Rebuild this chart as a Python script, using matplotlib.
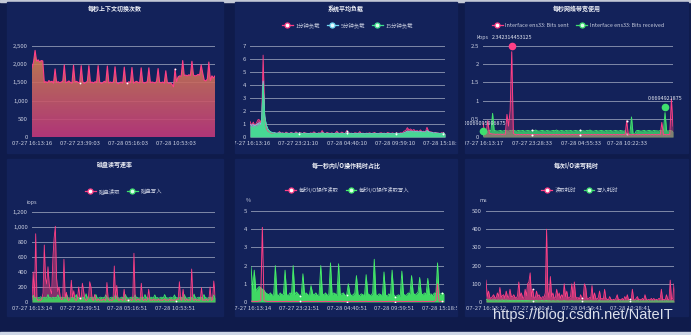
import numpy as np
import matplotlib
matplotlib.use("Agg")
import matplotlib.pyplot as plt
from matplotlib.patches import Rectangle
from matplotlib.lines import Line2D
from matplotlib.colors import LinearSegmentedColormap
from matplotlib.transforms import Bbox, TransformedBbox, ScaledTranslation
import matplotlib.ticker as mticker

plt.rcParams['font.family'] = ['Noto Sans CJK SC', 'DejaVu Sans']

# ---------------- data ----------------
# context switches per second
ctx_switch = [
    1900, 2060, 2380, 2080, 2120, 2060, 2100, 2090, 1500, 1520,
    1490, 1550, 1510, 1530, 1480, 1870, 1500, 1520, 1490, 1510,
    1530, 1980, 1490, 1510, 1540, 1500, 1480, 1970, 1510, 1530,
    1500, 1490, 1960, 1520, 1470, 1500, 1530, 1960, 1490, 1510,
    1480, 1520, 1500, 1960, 1510, 1470, 1490, 1530, 1500, 1950,
    1480, 1510, 1490, 1520, 1930, 1500, 1460, 1490, 1510, 1480,
    1920, 1500, 1470, 1520, 1490, 1910, 1480, 1510, 1530, 1500,
    1490, 1900, 1510, 1480, 1500, 1520, 1900, 1490, 1510, 1500,
    1480, 1530, 1880, 1500, 1490, 1510, 1480, 1820, 1500, 1470,
    1490, 1450, 1380, 1870, 1520, 1650, 1680, 1670, 2100, 1690,
    1700, 1680, 1710, 1690, 2080, 1700, 1680, 1690, 1720, 1700,
    1980, 1760, 1560, 1540, 1590, 2060, 1550, 1680, 1620, 1680,
]
ctx_labels = ["07-27 16:13:16", "07-27 23:39:03", "07-28 05:16:03", "07-28 10:53:03"]

# system load average
load1 = [
    1.2, 0.9, 1.15, 0.85, 1.1, 1.35, 1.3, 1.0, 6.3, 1.4,
    0.65, 0.45, 0.38, 0.3, 0.28, 0.35, 0.25, 0.3, 0.42, 0.28,
    0.33, 0.25, 0.38, 0.3, 0.27, 0.35, 0.3, 0.26, 0.4, 0.3,
    0.28, 0.33, 0.25, 0.36, 0.3, 0.28, 0.25, 0.32, 0.28, 0.4,
    0.3, 0.26, 0.33, 0.28, 0.5, 0.3, 0.27, 0.35, 0.3, 0.28,
    0.32, 0.25, 0.3, 0.45, 0.3, 0.28, 0.38, 0.3, 0.26, 0.5,
    0.35, 0.28, 0.3, 0.25, 0.33, 0.3, 0.28, 0.42, 0.27, 0.3,
    0.25, 0.3, 0.28, 0.33, 0.27, 0.3, 0.35, 0.28, 0.25, 0.3,
    0.33, 0.28, 0.3, 0.26, 0.35, 0.3, 0.28, 0.32, 0.27, 0.3,
    0.3, 0.28, 0.33, 0.3, 0.45, 0.5, 0.72, 0.55, 0.62, 0.5,
    0.58, 0.45, 0.5, 0.42, 0.55, 0.4, 0.45, 0.38, 0.75, 0.45,
    0.4, 0.38, 0.3, 0.35, 0.32, 0.3, 0.28, 0.33, 0.3, 0.28,
]
load5 = [
    0.95, 0.9, 0.95, 0.85, 0.95, 1.05, 1.1, 1.0, 4.3, 1.6,
    0.9, 0.6, 0.45, 0.38, 0.33, 0.32, 0.3, 0.3, 0.32, 0.3,
    0.29, 0.28, 0.3, 0.29, 0.27, 0.3, 0.29, 0.27, 0.31, 0.29,
    0.28, 0.29, 0.27, 0.3, 0.28, 0.27, 0.26, 0.28, 0.27, 0.3,
    0.28, 0.27, 0.29, 0.27, 0.33, 0.29, 0.27, 0.29, 0.28, 0.27,
    0.28, 0.26, 0.27, 0.31, 0.28, 0.27, 0.29, 0.28, 0.26, 0.32,
    0.3, 0.28, 0.27, 0.26, 0.28, 0.27, 0.26, 0.3, 0.26, 0.27,
    0.25, 0.27, 0.26, 0.28, 0.26, 0.27, 0.29, 0.27, 0.25, 0.26,
    0.28, 0.26, 0.27, 0.25, 0.28, 0.27, 0.26, 0.28, 0.26, 0.27,
    0.27, 0.26, 0.28, 0.27, 0.33, 0.37, 0.45, 0.43, 0.46, 0.43,
    0.45, 0.41, 0.42, 0.39, 0.43, 0.38, 0.4, 0.36, 0.5, 0.4,
    0.37, 0.35, 0.31, 0.32, 0.3, 0.29, 0.27, 0.29, 0.28, 0.27,
]
load15 = [
    0.75, 0.8, 0.7, 0.85, 0.75, 0.9, 0.95, 0.8, 4.1, 1.5,
    0.9, 0.55, 0.42, 0.35, 0.3, 0.29, 0.27, 0.28, 0.3, 0.27,
    0.26, 0.25, 0.28, 0.26, 0.24, 0.27, 0.26, 0.24, 0.28, 0.26,
    0.25, 0.26, 0.24, 0.27, 0.25, 0.24, 0.23, 0.25, 0.24, 0.27,
    0.25, 0.24, 0.26, 0.24, 0.3, 0.26, 0.24, 0.26, 0.25, 0.24,
    0.25, 0.23, 0.24, 0.28, 0.25, 0.24, 0.26, 0.25, 0.23, 0.29,
    0.27, 0.25, 0.24, 0.23, 0.25, 0.24, 0.23, 0.27, 0.23, 0.24,
    0.22, 0.24, 0.23, 0.25, 0.23, 0.24, 0.26, 0.24, 0.22, 0.23,
    0.25, 0.23, 0.24, 0.22, 0.25, 0.24, 0.23, 0.25, 0.23, 0.24,
    0.24, 0.23, 0.25, 0.24, 0.3, 0.33, 0.4, 0.38, 0.42, 0.38,
    0.4, 0.36, 0.38, 0.35, 0.38, 0.34, 0.36, 0.32, 0.44, 0.36,
    0.33, 0.31, 0.27, 0.28, 0.27, 0.26, 0.24, 0.26, 0.25, 0.24,
]
load_names = ["1分钟负载", "5分钟负载", "15分钟负载"]
load_labels = ["07-27 16:13:16", "07-27 23:21:10", "07-28 04:40:10",
               "07-28 09:59:10", "07-28 15:18:10"]

# network bandwidth (kbps)
net_sent = [
    0.4, 0.12, 0.1, 0.45, 0.1, 0.09, 0.08, 0.08, 0.07, 0.08,
    0.07, 0.08, 0.07, 0.08, 0.07, 0.62, 0.3, 0.72, 2.342314453125, 0.1,
    0.07, 0.06, 0.07, 0.06, 0.07, 0.06, 0.07, 0.06, 0.07, 0.06,
    0.07, 0.06, 0.07, 0.06, 0.07, 0.06, 0.07, 0.06, 0.07, 0.06,
    0.07, 0.06, 0.07, 0.06, 0.07, 0.06, 0.07, 0.06, 0.07, 0.06,
    0.07, 0.06, 0.07, 0.06, 0.07, 0.06, 0.07, 0.06, 0.07, 0.06,
    0.07, 0.06, 0.07, 0.06, 0.07, 0.06, 0.07, 0.06, 0.07, 0.06,
    0.07, 0.06, 0.07, 0.06, 0.07, 0.06, 0.07, 0.06, 0.07, 0.06,
    0.07, 0.06, 0.07, 0.06, 0.07, 0.06, 0.07, 0.06, 0.07, 0.06,
    0.45, 0.06, 0.07, 0.06, 0.07, 0.06, 0.07, 0.06, 0.07, 0.06,
    0.07, 0.06, 0.07, 0.06, 0.07, 0.06, 0.07, 0.06, 0.07, 0.06,
    0.07, 0.06, 0.4, 0.06, 0.07, 0.06, 0.07, 0.06, 1.05, 0.3,
]
net_recv = [
    0.00069095996875, 0.15, 0.17, 0.16, 0.18, 0.17, 0.65, 0.18, 0.17, 0.16,
    0.17, 0.18, 0.16, 0.17, 0.18, 0.17, 0.16, 0.18, 0.17, 0.19,
    0.17, 0.16, 0.18, 0.17, 0.17, 0.18, 0.16, 0.17, 0.18, 0.17,
    0.16, 0.18, 0.17, 0.19, 0.17, 0.16, 0.17, 0.18, 0.17, 0.16,
    0.18, 0.17, 0.16, 0.17, 0.18, 0.17, 0.19, 0.17, 0.16, 0.18,
    0.17, 0.16, 0.18, 0.17, 0.17, 0.18, 0.16, 0.17, 0.18, 0.17,
    0.16, 0.18, 0.17, 0.17, 0.16, 0.18, 0.17, 0.19, 0.17, 0.16,
    0.17, 0.18, 0.16, 0.17, 0.18, 0.17, 0.16, 0.18, 0.17, 0.17,
    0.18, 0.16, 0.17, 0.18, 0.17, 0.16, 0.18, 0.17, 0.16, 0.17,
    0.08, 0.08, 0.07, 0.55, 0.08, 0.08, 0.17, 0.18, 0.17, 0.16,
    0.17, 0.18, 0.16, 0.17, 0.18, 0.17, 0.16, 0.18, 0.17, 0.17,
    0.16, 0.18, 0.17, 0.16, 0.6694921875, 0.17, 0.16, 0.18, 0.17, 0.15,
]
net_names = ["Interface ens33: Bits sent", "Interface ens33: Bits received"]
net_labels = ["07-27 16:13:17", "07-27 23:28:33", "07-28 04:55:33", "07-28 10:22:33"]

# disk read / write (iops)
disk_read = [
    30, 400, 60, 910, 40, 20, 30, 20, 40, 120,
    760, 320, 240, 470, 240, 160, 110, 580, 850, 1010,
    320, 140, 200, 60, 30, 40, 570, 50, 130, 30,
    20, 40, 290, 60, 150, 30, 20, 40, 200, 60,
    30, 250, 150, 40, 20, 30, 60, 270, 200, 30,
    20, 100, 30, 20, 40, 20, 30, 20, 40, 30,
    20, 260, 40, 20, 30, 20, 30, 480, 40, 220,
    30, 20, 40, 30, 20, 170, 30, 20, 30, 20,
    40, 20, 30, 650, 30, 20, 40, 30, 20, 250,
    30, 20, 40, 20, 30, 170, 20, 30, 20, 40,
    20, 30, 20, 40, 20, 30, 20, 30, 40, 20,
    30, 20, 40, 20, 30, 20, 30, 20, 40, 30,
    270, 30, 20, 170, 30, 20, 40, 20, 30, 20,
    440, 30, 20, 40, 20, 30, 20, 30, 190, 20,
    30, 20, 40, 20, 30, 200, 20, 30, 280, 100,
]
disk_write = [
    60, 90, 55, 65, 50, 60, 55, 70, 60, 55,
    65, 55, 60, 100, 55, 60, 50, 65, 55, 60,
    55, 95, 60, 50, 65, 55, 60, 55, 105, 60,
    55, 50, 60, 65, 55, 60, 100, 55, 60, 50,
    55, 65, 60, 55, 110, 60, 50, 55, 60, 65,
    55, 60, 100, 55, 50, 60, 65, 55, 60, 55,
    95, 60, 55, 50, 60, 65, 55, 60, 105, 55,
    60, 50, 55, 65, 60, 55, 100, 60, 55, 50,
    60, 65, 55, 60, 95, 55, 60, 50, 55, 65,
    60, 55, 100, 60, 55, 50, 60, 65, 55, 60,
    95, 55, 60, 50, 55, 65, 60, 55, 100, 60,
    55, 50, 60, 65, 55, 60, 95, 55, 60, 50,
    55, 65, 60, 55, 100, 60, 50, 55, 60, 65,
    55, 60, 105, 55, 50, 60, 65, 55, 60, 55,
    100, 60, 55, 50, 60, 65, 55, 60, 95, 55,
]
disk_names = ["磁盘读取", "磁盘写入"]
disk_labels = ["07-27 16:13:14", "07-27 23:39:51", "07-28 05:16:51", "07-28 10:53:51"]

# share of each second spent on I/O (%)
io_read_pct = [
    0.05, 0.03, 0.04, 0.02, 0.03, 0.05, 0.08, 4.1, 0.1, 0.05,
    0.03, 0.02, 0.03, 0.04, 0.02, 0.03, 0.02, 0.03, 0.04, 0.02,
    0.03, 0.02, 0.04, 0.03, 0.02, 0.03, 0.04, 0.02, 0.03, 0.02,
    0.04, 0.03, 0.02, 0.03, 0.02, 0.04, 0.03, 0.02, 0.03, 0.02,
    0.03, 0.04, 0.02, 0.03, 0.02, 0.03, 0.04, 0.02, 0.03, 0.02,
    0.04, 0.03, 0.02, 0.03, 0.02, 0.04, 0.03, 0.02, 0.03, 0.02,
    0.03, 0.02, 0.04, 0.03, 0.02, 0.03, 0.02, 0.04, 0.03, 0.02,
    0.03, 0.04, 0.02, 0.03, 0.02, 0.03, 0.04, 0.02, 0.03, 0.02,
    0.04, 0.03, 0.02, 0.03, 0.02, 0.04, 0.03, 0.02, 0.03, 0.02,
    0.03, 0.02, 0.04, 0.03, 0.02, 0.03, 0.02, 0.04, 0.03, 0.02,
    0.03, 0.04, 0.02, 0.03, 0.02, 0.03, 0.04, 0.02, 0.03, 0.02,
    0.04, 0.03, 0.02, 0.03, 0.1, 1.0, 0.05, 0.02, 0.03, 0.02,
]
io_rw_pct = [
    1.95, 0.7, 1.75, 0.6, 0.75, 0.85, 0.8, 0.7, 0.65, 0.5,
    0.45, 0.4, 0.5, 0.35, 0.45, 2.0, 0.4, 0.35, 0.5, 0.4,
    0.45, 1.75, 0.4, 0.35, 0.5, 0.45, 2.0, 0.4, 0.55, 0.45,
    0.35, 0.4, 1.55, 0.45, 0.5, 0.4, 0.35, 0.9, 0.45, 0.4,
    0.5, 0.35, 0.4, 2.0, 0.45, 0.4, 0.5, 0.35, 0.45, 2.15,
    0.4, 0.5, 0.45, 0.35, 2.1, 0.4, 0.45, 0.5, 0.35, 0.4,
    1.0, 0.45, 0.35, 0.4, 0.5, 1.45, 0.4, 0.35, 0.45, 0.4,
    0.35, 1.5, 0.45, 0.4, 0.35, 0.5, 2.35, 0.4, 0.35, 0.45,
    0.4, 0.35, 1.65, 0.4, 0.3, 0.45, 0.35, 1.75, 0.4, 0.3,
    0.35, 0.4, 0.3, 1.7, 0.45, 0.35, 0.4, 0.5, 0.45, 1.45,
    0.5, 0.4, 0.45, 0.55, 1.35, 0.45, 0.4, 0.5, 0.45, 1.3,
    0.4, 0.45, 0.35, 0.5, 0.45, 2.15, 0.4, 0.45, 0.5, 0.45,
]
io_pct_names = ["每秒I/O操作读取", "每秒I/O操作读取写入"]
io_pct_labels = ["07-27 16:13:14", "07-27 23:21:51", "07-28 04:40:51",
                 "07-28 09:59:51", "07-28 15:18:51"]

# latency of each I/O (ms)
io_read_ms = [
    120, 30, 60, 25, 20, 30, 40, 25, 20, 50,
    30, 80, 25, 35, 40, 20, 60, 30, 25, 70,
    30, 30, 40, 25, 20, 35, 110, 30, 50, 25,
    20, 70, 35, 100, 110, 160, 30, 70, 25, 20,
    60, 30, 40, 25, 20, 30, 25, 50, 400, 60,
    25, 140, 30, 50, 20, 25, 70, 30, 50, 20,
    40, 25, 100, 30, 60, 20, 25, 30, 100, 25,
    110, 30, 20, 25, 15, 40, 20, 25, 100, 80,
    20, 15, 25, 20, 90, 15, 50, 20, 15, 25,
    60, 15, 20, 15, 70, 20, 15, 10, 30, 15,
    10, 15, 10, 20, 40, 10, 15, 10, 20, 10,
    30, 15, 40, 10, 15, 10, 70, 15, 10, 20,
    30, 10, 15, 10, 20, 10, 40, 15, 10, 15,
    10, 20, 10, 20, 10, 15, 10, 20, 15, 70,
    10, 15, 10, 40, 15, 10, 120, 15, 20, 100,
]
io_write_ms = [
    15, 12, 10, 12, 9, 11, 10, 12, 9, 10,
    11, 9, 10, 12, 8, 10, 11, 9, 10, 8,
    9, 10, 8, 9, 10, 8, 9, 7, 8, 9,
    7, 8, 9, 7, 8, 6, 7, 8, 6, 7,
    8, 6, 7, 6, 8, 7, 6, 7, 8, 6,
    7, 6, 5, 7, 6, 5, 6, 7, 5, 6,
    5, 6, 7, 5, 6, 5, 6, 5, 7, 5,
    6, 5, 6, 5, 6, 7, 5, 6, 5, 6,
    5, 6, 5, 7, 5, 6, 5, 6, 5, 6,
    7, 5, 6, 5, 6, 5, 6, 5, 7, 5,
    6, 5, 6, 5, 6, 7, 5, 6, 5, 6,
    5, 6, 5, 7, 5, 6, 5, 6, 5, 6,
    7, 5, 6, 5, 6, 5, 6, 5, 7, 5,
    6, 5, 6, 5, 6, 7, 5, 6, 5, 6,
    5, 6, 5, 7, 5, 6, 5, 6, 5, 6,
]
io_ms_names = ["读取耗时", "写入耗时"]
io_ms_labels = ["07-27 16:13:12", "07-27 23:30:41", "07-28 04:59:41", "07-28 10:28:41"]

# ---------------- styling ----------------
W, H = 691, 335
BG = '#0f1b4b'
PANEL = '#13225a'
GRID = '#7f89a8'
TXT = '#c9cee0'
PINK = '#ff3f86'
GREEN = '#3fe06e'
MINT = '#3fe08f'
CYAN = '#6fd8f2'

fig = plt.figure(figsize=(W / 100, H / 100), dpi=100)
fig.patch.set_facecolor(BG)


def fr(x0, y0, x1, y1):
    return [x0 / W, 1 - y1 / H, (x1 - x0) / W, (y1 - y0) / H]


# thin light strips at top and bottom of the page
fig.add_artist(Rectangle((0, 1 - 1.5 / H), 1, 1.5 / H, transform=fig.transFigure,
                         color='#c3c8d6', zorder=0))
fig.add_artist(Rectangle((0, 0), 1, 3 / H, transform=fig.transFigure,
                         color='#cdd6e6', zorder=0))

panel_px = {
    1: (7, 2, 223, 153), 2: (235, 2, 457, 153), 3: (465, 2, 688, 153),
    4: (7, 159, 223, 316), 5: (235, 159, 457, 316), 6: (465, 159, 688, 316),
}
axes_px = {
    1: (32, 46, 215, 137), 2: (250, 46, 445, 137), 3: (483, 46, 673, 137),
    4: (32, 212, 215, 302), 5: (251, 211, 444, 302), 6: (486, 211, 674, 302),
}
titles = {
    1: "每秒上下文切换次数", 2: "系统平均负载", 3: "每秒网络带宽使用",
    4: "磁盘读写速率", 5: "每一秒内I/O操作耗时占比", 6: "每次I/O读写耗时",
}

panel_boxes = {}
for k, (x0, y0, x1, y1) in panel_px.items():
    l, b, w, h = fr(x0, y0, x1, y1)
    fig.add_artist(Rectangle((l, b), w, h, transform=fig.transFigure,
                             color=PANEL, zorder=0))
    panel_boxes[k] = TransformedBbox(Bbox.from_bounds(l, b, w, h), fig.transFigure)
    fig.text((x0 + x1) / 2 / W, 1 - (y0 + 6) / H, titles[k], ha='center', va='center',
             fontsize=4.3, fontweight='bold', color='#f2f4fa')

axes = {k: fig.add_axes(fr(*v)) for k, v in axes_px.items()}


def style(k, n, ymax, step, fmt, xlabels, xfracs):
    ax = axes[k]
    ax.set_facecolor('none')
    for s in ax.spines.values():
        s.set_visible(False)
    ax.set_xlim(0, n - 1)
    ax.set_ylim(0, ymax)
    ax.set_yticks(np.arange(0, ymax + step / 2, step))
    ax.yaxis.set_major_formatter(mticker.FuncFormatter(fmt))
    ax.set_xticks([f * (n - 1) for f in xfracs])
    ax.set_xticklabels(xlabels)
    ax.tick_params(length=0, labelsize=4.3, colors=TXT, pad=3)
    ax.yaxis.grid(True, color=GRID, lw=0.7)
    ax.set_axisbelow(True)
    for t in ax.xaxis.get_major_ticks():
        t.label1.set_clip_box(panel_boxes[k])
        t.label1.set_clip_on(True)
    return ax


def legend(ax, names, colors, faces):
    handles = [Line2D([], [], color=c, lw=0.9, marker='o', markersize=3.6,
                      markerfacecolor=f, markeredgecolor=c, markeredgewidth=0.9)
               for c, f in zip(colors, faces)]
    ax.legend(handles, names, loc='center', bbox_to_anchor=(0.5, 1.23), ncol=len(names),
              frameon=False, fontsize=3.9, labelcolor=TXT, handlelength=2.0,
              handletextpad=0.5, columnspacing=1.3, borderaxespad=0)


def comma(v, _):
    return f"{int(v):,}"


def plain(v, _):
    return f"{v:g}"


def dots(fracs, n):
    return [int(round(f * (n - 1))) for f in fracs[1:]]


# ---- panel 1: context switches with gradient area ----
fr1 = [0, 0.26, 0.522, 0.784]
n1 = len(ctx_switch)
ax = style(1, n1, 2500, 500, comma, ctx_labels, fr1)
x = np.arange(n1)
poly = ax.fill_between(x, 0, ctx_switch, color='none', lw=0)
cmap = LinearSegmentedColormap.from_list('ctx', ['#c2387c', '#cf8a4a'])
im = ax.imshow(np.linspace(0, 1, 256).reshape(-1, 1), cmap=cmap, aspect='auto',
               origin='lower', extent=[0, n1 - 1, 0, 2500], alpha=0.9, zorder=2)
im.set_clip_path(poly.get_paths()[0], transform=ax.transData)
ax.plot(x, ctx_switch, color=PINK, lw=0.8, zorder=3, marker='o', markersize=1.3,
        markerfacecolor='white', markeredgewidth=0, markevery=dots(fr1, n1))
ax.set_xlim(0, n1 - 1)
ax.set_ylim(0, 2500)

# ---- panel 2: load average ----
fr2 = [0, 0.248, 0.496, 0.744, 0.992]
n2 = len(load1)
ax = style(2, n2, 7, 1, plain, load_labels, fr2)
x = np.arange(n2)
for ys, c, fa in [(load1, PINK, 0.75), (load5, CYAN, 0.6), (load15, MINT, 0.9)]:
    ax.fill_between(x, 0, ys, color=c, alpha=fa, lw=0, zorder=2)
    ax.plot(x, ys, color=c, lw=0.6, zorder=3, marker='o', markersize=1.3,
            markerfacecolor='white', markeredgewidth=0, markevery=dots(fr2, n2))
legend(ax, load_names, [PINK, CYAN, MINT], ['white', '#e8fbff', '#dcffe9'])

# ---- panel 3: network bandwidth ----
fr3 = [0, 0.26, 0.515, 0.76]
n3 = len(net_sent)
ax = style(3, n3, 2.5, 0.5, plain, net_labels, fr3)
x = np.arange(n3)
ax.fill_between(x, 0, net_recv, color='#3ccf6c', alpha=0.85, lw=0, zorder=2)
ax.plot(x, net_recv, color=GREEN, lw=0.7, zorder=3, marker='o', markersize=1.5,
        markerfacecolor='white', markeredgewidth=0, markevery=dots(fr3, n3))
ax.fill_between(x, 0, net_sent, color='#e0407c', alpha=0.45, lw=0, zorder=3)
ax.plot(x, net_sent, color=PINK, lw=0.7, zorder=4, marker='o', markersize=1.5,
        markerfacecolor='white', markeredgewidth=0, markevery=dots(fr3, n3))
legend(ax, net_names, [PINK, GREEN], ['white', '#dcffe9'])
ax.text(0, 1.088, "kbps", transform=ax.transAxes, ha='center', va='center',
        fontsize=3.9, color=TXT)

pin = ax.transData + ScaledTranslation(0, 0.055, fig.dpi_scale_trans)
marks = [
    (int(np.argmax(net_sent)), max(net_sent), PINK),
    (int(np.argmax(net_recv)), max(net_recv), GREEN),
    (int(np.argmin(net_recv)), min(net_recv), GREEN),
]
for i, v, c in marks:
    ax.plot([i], [v], 'o', color=c, markersize=5.5, markeredgewidth=0,
            transform=pin, clip_on=False, zorder=6)
    t = ax.annotate(repr(v), (i, v), xytext=(0, 10), textcoords='offset points',
                    ha='center', va='center', fontsize=3.9, color='#e6e9f2',
                    annotation_clip=False, zorder=7)
    t.set_clip_box(panel_boxes[3])
    t.set_clip_on(True)

# ---- panel 4: disk iops ----
fr4 = [0, 0.26, 0.522, 0.784]
n4 = len(disk_read)
ax = style(4, n4, 1200, 200, comma, disk_labels, fr4)
x = np.arange(n4)
ax.fill_between(x, 0, disk_read, color='#e0407c', alpha=0.55, lw=0, zorder=2)
ax.fill_between(x, 0, disk_write, color='#3ed45e', alpha=0.92, lw=0, zorder=3)
ax.plot(x, disk_write, color=GREEN, lw=0.6, zorder=4)
ax.plot(x, disk_read, color=PINK, lw=0.6, zorder=5, marker='o', markersize=1.3,
        markerfacecolor='white', markeredgewidth=0, markevery=dots(fr4, n4))
legend(ax, disk_names, [PINK, GREEN], ['white', '#dcffe9'])
ax.text(0, 1.11, "iops", transform=ax.transAxes, ha='center', va='center',
        fontsize=3.9, color=TXT)

# ---- panel 5: I/O time share ----
fr5 = [0, 0.248, 0.496, 0.744, 0.992]
n5 = len(io_rw_pct)
ax = style(5, n5, 5, 1, plain, io_pct_labels, fr5)
x = np.arange(n5)
ax.fill_between(x, 0, io_rw_pct, color='#45ee66', alpha=0.9, lw=0, zorder=2)
ax.plot(x, io_rw_pct, color='#45f06a', lw=0.6, zorder=3, marker='o', markersize=1.3,
        markerfacecolor='white', markeredgewidth=0, markevery=dots(fr5, n5))
ax.plot(x, io_read_pct, color=PINK, lw=0.7, zorder=4, marker='o', markersize=1.3,
        markerfacecolor='white', markeredgewidth=0, markevery=dots(fr5, n5))
legend(ax, io_pct_names, [PINK, '#45f06a'], ['white', '#dcffe9'])
ax.text(-0.015, 1.11, "%", transform=ax.transAxes, ha='center', va='center',
        fontsize=3.9, color=TXT)

# ---- panel 6: I/O latency ----
fr6 = [0, 0.25, 0.51, 0.767]
n6 = len(io_read_ms)
ax = style(6, n6, 500, 100, plain, io_ms_labels, fr6)
x = np.arange(n6)
ax.fill_between(x, 0, io_read_ms, color='#e0407c', alpha=0.8, lw=0, zorder=2)
ax.plot(x, io_read_ms, color=PINK, lw=0.6, zorder=3, marker='o', markersize=1.3,
        markerfacecolor='white', markeredgewidth=0, markevery=dots(fr6, n6))
ax.fill_between(x, 0, io_write_ms, color='#3ed45e', alpha=0.9, lw=0, zorder=4)
ax.plot(x, io_write_ms, color=GREEN, lw=0.6, zorder=5, marker='o', markersize=1.3,
        markerfacecolor='white', markeredgewidth=0, markevery=dots(fr6, n6))
legend(ax, io_ms_names, [PINK, GREEN], ['white', '#dcffe9'])
ax.text(-0.016, 1.11, "ms", transform=ax.transAxes, ha='center', va='center',
        fontsize=3.9, color=TXT)

# blog address stamped in the lower right corner
fig.text(583 / W, 1 - 315 / H, "https://blog.csdn.net/NateIT", ha='center', va='center',
         fontsize=10.5, family=['Liberation Sans', 'DejaVu Sans'], color='#eef1f8',
         alpha=0.92, zorder=10)

fig.savefig("out.png", dpi=100, facecolor=fig.get_facecolor())
